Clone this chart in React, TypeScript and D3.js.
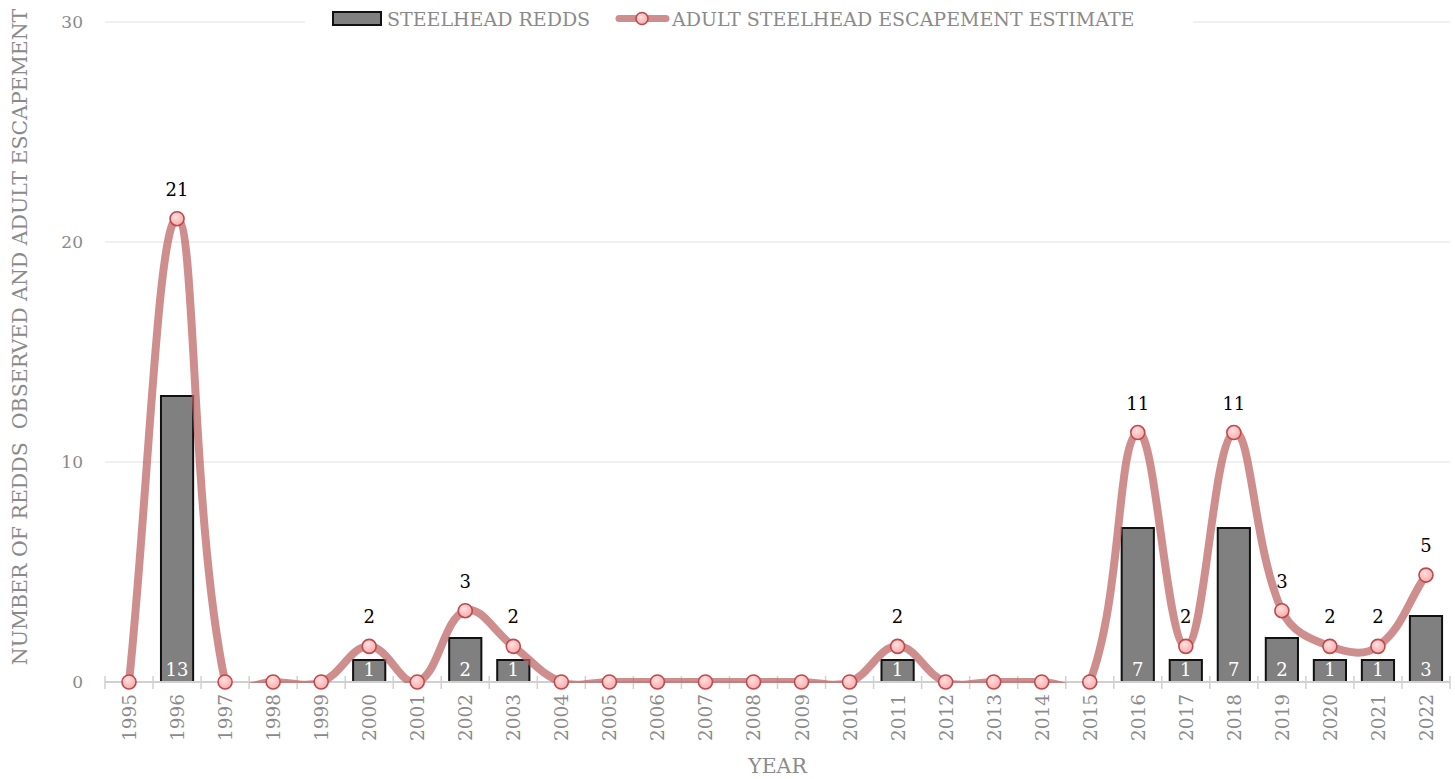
import React from "react";
import * as d3 from "d3";

const years = ["1995","1996","1997","1998","1999","2000","2001","2002","2003","2004","2005","2006","2007","2008","2009","2010","2011","2012","2013","2014","2015","2016","2017","2018","2019","2020","2021","2022"];
const redds = [0,13,0,0,0,1,0,2,1,0,0,0,0,0,0,0,1,0,0,0,0,7,1,7,2,1,1,3];
const escapement = [0,21.06,0,0,0,1.62,0,3.24,1.62,0,0,0,0,0,0,0,1.62,0,0,0,0,11.34,1.62,11.34,3.24,1.62,1.62,4.86];
const yTicks = [0,10,20,30];
const legendLabels = ["STEELHEAD REDDS","ADULT STEELHEAD ESCAPEMENT ESTIMATE"];
const xTitle = "YEAR";
const yTitle = "NUMBER OF REDDS  OBSERVED AND ADULT ESCAPEMENT";

const W = 1455, H = 779;
const M = { left: 105, right: 1450, top: 22, bottom: 682 };
const FONT = "'DejaVu Serif', 'Liberation Serif', serif";
const GRAY = "#8a8a8a";

function chartjsCurve(tension: number) {
  return (context: any) => {
    let pts: [number, number][] = [];
    return {
      areaStart() {},
      areaEnd() {},
      lineStart() { pts = []; },
      point(x: number, y: number) { pts.push([x, y]); },
      lineEnd() {
        const n = pts.length;
        if (!n) return;
        const ctrl = pts.map((p, i) => {
          const prev = i > 0 ? pts[i - 1] : p;
          const next = i < n - 1 ? pts[i + 1] : p;
          const d01 = Math.hypot(p[0] - prev[0], p[1] - prev[1]);
          const d12 = Math.hypot(next[0] - p[0], next[1] - p[1]);
          const s = d01 + d12;
          const s01 = s ? d01 / s : 0;
          const s12 = s ? d12 / s : 0;
          const fa = tension * s01, fb = tension * s12;
          return {
            pv: [p[0] - fa * (next[0] - prev[0]), p[1] - fa * (next[1] - prev[1])],
            nx: [p[0] + fb * (next[0] - prev[0]), p[1] + fb * (next[1] - prev[1])],
          };
        });
        context.moveTo(pts[0][0], pts[0][1]);
        for (let i = 1; i < n; i++) {
          context.bezierCurveTo(ctrl[i - 1].nx[0], ctrl[i - 1].nx[1], ctrl[i].pv[0], ctrl[i].pv[1], pts[i][0], pts[i][1]);
        }
      },
    };
  };
}

export default function App() {
  const x = d3.scaleBand<string>().domain(years).range([M.left, M.right]).padding(0);
  const y = d3.scaleLinear().domain([0, 30]).range([M.bottom, M.top]);
  const bw = x.bandwidth() * 0.67;
  const cx = (yr: string) => (x(yr) as number) + x.bandwidth() / 2;

  const lineGen = d3.line<number>()
    .x((_, i) => cx(years[i]))
    .y((d) => y(d))
    .curve(chartjsCurve(0.4) as any);
  const linePath = lineGen(escapement) || "";

  const boundaries = years.map((yr) => x(yr) as number).concat([M.right]);
  const LINE_COLOR = "rgba(188,98,98,0.72)";

  return (
    <svg width={W} height={H} style={{ display: "block", position: "absolute", left: 0, top: 0 }} fontFamily={FONT}>
      <defs>
        <clipPath id="plotClip">
          <rect x={M.left} y={0} width={M.right - M.left} height={M.bottom + 1} />
        </clipPath>
        <radialGradient id="ptGrad" cx="0.4" cy="0.35" r="0.7">
          <stop offset="0" stopColor="#ffe0e0" />
          <stop offset="1" stopColor="#f7a8a8" />
        </radialGradient>
      </defs>
      <rect width={W} height={H} fill="#fff" />
      {yTicks.filter((t) => t !== 0).map((t) => (
        <line key={t} x1={M.left} x2={M.right} y1={y(t)} y2={y(t)} stroke="#ebebeb" strokeWidth={1.5} />
      ))}
      {yTicks.map((t) => (
        <text key={t} x={83} y={y(t) + 6} textAnchor="end" fontSize={17} fill={GRAY}>{t}</text>
      ))}
      {redds.map((v, i) => v > 0 ? (
        <rect key={i} x={cx(years[i]) - bw / 2} y={y(v)} width={bw} height={y(0) - y(v)} fill="#808080" stroke="#111" strokeWidth={2} />
      ) : null)}
      {redds.map((v, i) => v > 0 ? (
        <text key={"bl" + i} x={cx(years[i])} y={y(0) - 6} textAnchor="middle" fontSize={18} fill="#fff">{v}</text>
      ) : null)}
      <line x1={M.left} x2={M.right} y1={y(0)} y2={y(0)} stroke="#d0d0d0" strokeWidth={2} />
      {boundaries.map((bx, i) => (
        <line key={"tk" + i} x1={bx} x2={bx} y1={y(0) - 6} y2={y(0) + 7} stroke="#d0d0d0" strokeWidth={1.5} />
      ))}
      <path d={linePath} fill="none" stroke={LINE_COLOR} strokeWidth={8} strokeLinejoin="round" clipPath="url(#plotClip)" />
      {escapement.map((v, i) => (
        <circle key={"pt" + i} cx={cx(years[i])} cy={y(v)} r={7} fill="url(#ptGrad)" stroke="#c0484a" strokeWidth={1.6} />
      ))}
      {escapement.map((v, i) => v > 0 ? (
        <text key={"pl" + i} x={cx(years[i])} y={y(v) - 23} textAnchor="middle" fontSize={18} fill="#000">{Math.round(v)}</text>
      ) : null)}
      {years.map((yr) => (
        <text key={"xl" + yr} transform={`translate(${cx(yr) + 7},${694}) rotate(-90)`} textAnchor="end" fontSize={18.5} fill={GRAY}>{yr}</text>
      ))}
      <text x={(M.left + M.right) / 2} y={773} textAnchor="middle" fontSize={20.5} fill={GRAY}>{xTitle}</text>
      <text transform={`translate(27,337) rotate(-90)`} textAnchor="middle" fontSize={20.5} fill={GRAY} style={{ whiteSpace: "pre" }}>{yTitle}</text>
      <rect x={305} y={8} width={888} height={24} fill="#fff" />
      <rect x={333} y={12} width={48} height={13} fill="#808080" stroke="#111" strokeWidth={2} />
      <text x={387} y={26} fontSize={19} fill={GRAY}>{legendLabels[0]}</text>
      <line x1={619} x2={666} y1={18.5} y2={18.5} stroke={LINE_COLOR} strokeWidth={7} strokeLinecap="round" />
      <circle cx={642} cy={18.5} r={6} fill="url(#ptGrad)" stroke="#c0484a" strokeWidth={1.6} />
      <text x={672} y={26} fontSize={19} fill={GRAY}>{legendLabels[1]}</text>
    </svg>
  );
}
